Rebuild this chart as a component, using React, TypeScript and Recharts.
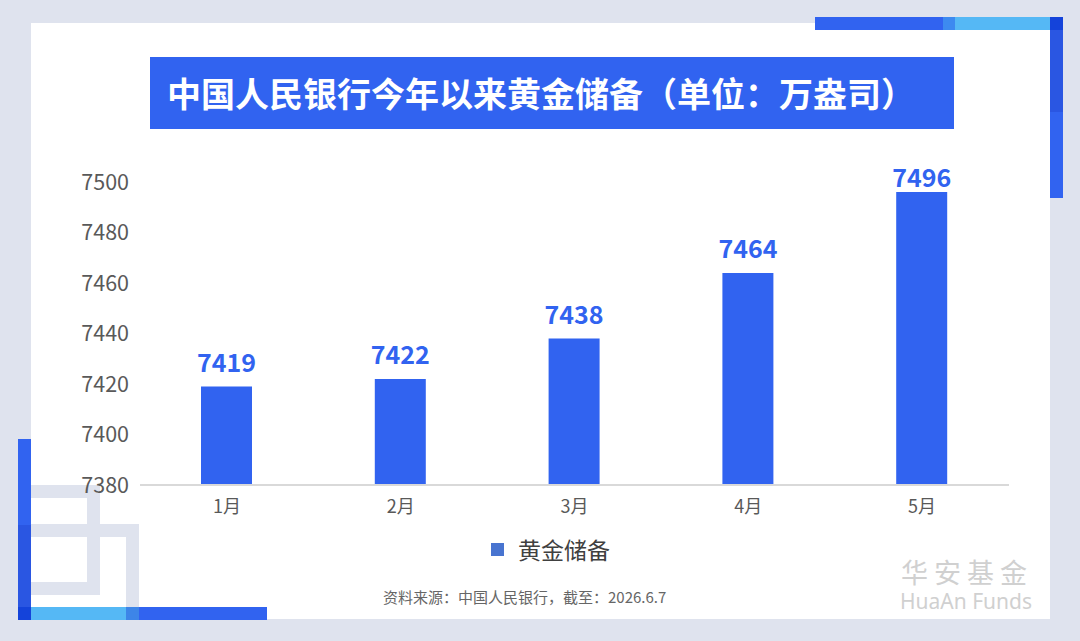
import React from 'react';
import { Bar, BarChart, XAxis, YAxis, LabelList, Legend } from 'recharts';

const months = ['1月', '2月', '3月', '4月', '5月'];
const goldReserve = [7419, 7422, 7438, 7464, 7496];
const yTicks = [7380, 7400, 7420, 7440, 7460, 7480, 7500];

const data = months.map((m, i) => ({ month: m, value: goldReserve[i] }));

const FONT = '"Noto Sans CJK SC", "Noto Sans", sans-serif';
const BLUE = '#3163f0';
const BLUE_DARK = '#2a56e2';
const CYAN = '#55b8f5';
const CORNER = '#1443da';
const BG = '#dfe3ee';

const box = (left: number, top: number, width: number, height: number, bg: string): React.CSSProperties => ({
    position: 'absolute',
    left,
    top,
    width,
    height,
    background: bg,
});

const frame = (left: number, top: number, width: number, height: number): React.CSSProperties => ({
    position: 'absolute',
    left,
    top,
    width,
    height,
    boxSizing: 'border-box',
    border: `13px solid ${BG}`,
});

// value label above the bar; kept from rising past the top of the plot like the original
const renderValue = (props: any) => {
    const { x, y, width, value } = props;
    const baseline = Math.max(Number(y) - 15, 187);
    return (
        <text
            x={Number(x) + Number(width) / 2}
            y={baseline}
            textAnchor="middle"
            fill={BLUE}
            fontSize={25}
            fontWeight={700}
            fontFamily={FONT}
        >
            {value}
        </text>
    );
};

function LegendContent() {
    return (
        <div style={{ display: 'flex', alignItems: 'center', fontFamily: FONT }}>
            <span style={{ width: 13, height: 13, background: '#4874d0', display: 'inline-block', marginRight: 14 }} />
            <span style={{ fontSize: 23, color: '#404040' }}>黄金储备</span>
        </div>
    );
}

export default function App() {
    return (
        <div style={{ position: 'absolute', left: 0, top: 0, width: 1080, height: 641, background: BG, overflow: 'hidden', fontFamily: FONT }}>
            {/* white panel */}
            <div style={box(31, 23, 1019, 596, '#ffffff')} />

            {/* grey outlined squares, bottom left */}
            <div style={frame(18, 485, 82, 110)} />
            <div style={frame(18, 524, 121, 96)} />

            {/* top right bars */}
            <div style={box(815, 17, 128, 13, BLUE)} />
            <div style={box(943, 17, 12, 13, '#3d8af0')} />
            <div style={box(955, 17, 95, 13, CYAN)} />
            <div style={box(1050, 17, 13, 13, CORNER)} />
            <div style={box(1050, 30, 13, 82, BLUE_DARK)} />
            <div style={box(1050, 112, 13, 86, BLUE)} />

            {/* bottom left bars */}
            <div style={box(18, 439, 13, 86, BLUE)} />
            <div style={box(18, 525, 13, 82, BLUE_DARK)} />
            <div style={box(18, 607, 13, 13, CORNER)} />
            <div style={box(31, 607, 95, 13, CYAN)} />
            <div style={box(126, 607, 13, 13, '#3d85e8')} />
            <div style={box(139, 607, 128, 13, BLUE)} />

            {/* title */}
            <div
                style={{
                    ...box(150, 57, 804, 72, BLUE),
                    color: '#ffffff',
                    fontWeight: 700,
                    fontSize: 34,
                    lineHeight: '72px',
                    paddingLeft: 17,
                    boxSizing: 'border-box',
                    whiteSpace: 'nowrap',
                }}
            >
                中国人民银行今年以来黄金储备（单位：万盎司）
            </div>

            <div style={{ position: 'absolute', left: 0, top: 0 }}>
                <BarChart width={1080} height={641} data={data} margin={{ top: 182, right: 71, bottom: 126, left: 80 }}>
                    <XAxis
                        dataKey="month"
                        axisLine={{ stroke: '#d9d9d9', strokeWidth: 2 }}
                        tickLine={false}
                        tickMargin={9}
                        tick={{ fill: '#595959', fontSize: 18, fontFamily: FONT }}
                        height={30}
                    />
                    <YAxis
                        domain={[7380, 7500]}
                        ticks={yTicks}
                        interval={0}
                        axisLine={false}
                        tickLine={false}
                        tickMargin={5}
                        width={60}
                        tick={{ fill: '#595959', fontSize: 21.5, fontFamily: FONT }}
                    />
                    <Legend
                        verticalAlign="middle"
                        align="center"
                        content={<LegendContent />}
                        wrapperStyle={{ position: 'absolute', left: 491, top: 532, width: 'auto' }}
                    />
                    <Bar dataKey="value" fill={BLUE} barSize={51} isAnimationActive={false}>
                        <LabelList dataKey="value" content={renderValue} />
                    </Bar>
                </BarChart>
            </div>

            {/* source */}
            <div style={{ position: 'absolute', left: 383, top: 586, fontSize: 15, color: '#666666', whiteSpace: 'nowrap' }}>
                资料来源：中国人民银行，截至：2026.6.7
            </div>

            {/* logo */}
            <div style={{ position: 'absolute', left: 901, top: 557, color: '#d0d0d0', whiteSpace: 'nowrap', fontSize: 27, letterSpacing: 6, lineHeight: '30px' }}>
                华安基金
            </div>
            <div style={{ position: 'absolute', left: 900, top: 591, color: '#d0d0d0', whiteSpace: 'nowrap', fontSize: 21, lineHeight: '20px', fontFamily: '"Noto Sans", sans-serif' }}>
                HuaAn Funds
            </div>
        </div>
    );
}
